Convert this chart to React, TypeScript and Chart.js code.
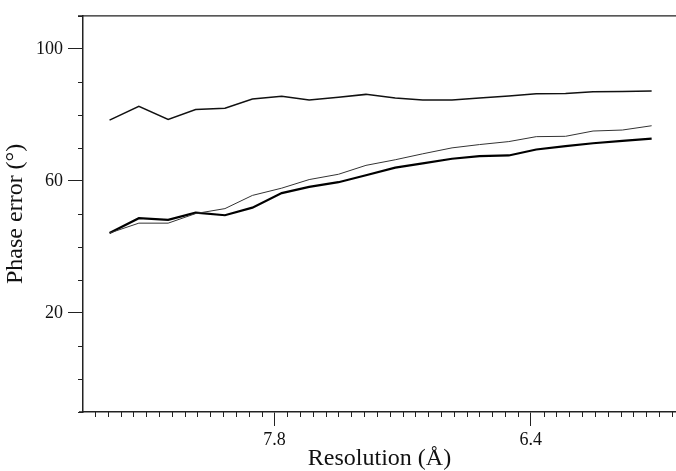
import React, { useEffect, useRef } from "react";
import { Chart, registerables } from "chart.js";

Chart.register(...registerables);

// Resolution shells (Å)
const resolution = [8.7, 8.54, 8.38, 8.23, 8.07, 7.92, 7.76, 7.61, 7.45, 7.3, 7.14, 6.99, 6.83, 6.68, 6.52, 6.37, 6.21, 6.06, 5.9, 5.74];
// Phase error series (degrees)
const phaseErrorTop = [78.4, 82.6, 78.6, 81.6, 82.0, 84.8, 85.6, 84.5, 85.3, 86.2, 85.1, 84.5, 84.5, 85.1, 85.7, 86.4, 86.5, 87.0, 87.1, 87.2];
const phaseErrorThin = [44.2, 47.2, 47.2, 50.1, 51.6, 55.6, 57.8, 60.4, 62.0, 64.7, 66.4, 68.2, 70.0, 71.0, 71.9, 73.4, 73.5, 75.1, 75.4, 76.7];
const phaseErrorThick = [44.2, 48.7, 48.2, 50.4, 49.6, 51.9, 56.3, 58.2, 59.6, 61.7, 64.0, 65.3, 66.7, 67.5, 67.7, 69.5, 70.5, 71.4, 72.1, 72.8];

// Axes
const xMajorTicks = [7.8, 6.4];
const xMinorStep = 0.07;
const xRange = [5.607, 8.845];
const yMajorTicks = [20, 60, 100];
const yMinorStep = 10;
const yRange = [-10, 110];

const FONT = "'Liberation Serif', 'Times New Roman', serif";
const AXIS_COLOR = "#222";

const framePlugin = {
  id: "frameAndMinorTicks",
  afterDraw(chart: any) {
    const { ctx, chartArea } = chart;
    const xs = chart.scales.x;
    const ys = chart.scales.y;
    ctx.save();
    ctx.strokeStyle = AXIS_COLOR;
    ctx.lineWidth = 1.3;
    ctx.beginPath();
    ctx.moveTo(chartArea.left - 5, chartArea.top);
    ctx.lineTo(chartArea.right, chartArea.top);
    ctx.moveTo(chartArea.left - 4, chartArea.bottom);
    ctx.lineTo(chartArea.left, chartArea.bottom);
    ctx.stroke();

    ctx.lineWidth = 1;
    ctx.beginPath();
    for (let v = yRange[0]; v <= yRange[1] + 1e-9; v += yMinorStep) {
      if (yMajorTicks.some((m) => Math.abs(m - v) < 1e-6)) continue;
      const py = Math.round(ys.getPixelForValue(v)) + 0.5;
      ctx.moveTo(chartArea.left - 5, py);
      ctx.lineTo(chartArea.left, py);
    }
    const ref = xMajorTicks[0];
    const kMin = Math.ceil((xRange[0] - ref) / xMinorStep - 1e-9);
    const kMax = Math.floor((xRange[1] - ref) / xMinorStep + 1e-9);
    for (let k = kMin; k <= kMax; k++) {
      const v = ref + k * xMinorStep;
      if (xMajorTicks.some((m) => Math.abs(m - v) < 1e-6)) continue;
      const px = Math.round(xs.getPixelForValue(v)) + 0.5;
      ctx.moveTo(px, chartArea.bottom);
      ctx.lineTo(px, chartArea.bottom + 5);
    }
    ctx.stroke();
    ctx.restore();
  },
};

const toPoints = (ys: number[]) => resolution.map((x, i) => ({ x, y: ys[i] }));

export default function App() {
  const canvasRef = useRef<HTMLCanvasElement | null>(null);

  useEffect(() => {
    if (!canvasRef.current) return;
    const chart = new Chart(canvasRef.current, {
      type: "line",
      data: {
        datasets: [
          {
            data: toPoints(phaseErrorTop),
            borderColor: "#111",
            borderWidth: 1.5,
            pointRadius: 0,
            tension: 0,
          },
          {
            data: toPoints(phaseErrorThin),
            borderColor: "#333",
            borderWidth: 1,
            pointRadius: 0,
            tension: 0,
          },
          {
            data: toPoints(phaseErrorThick),
            borderColor: "#000",
            borderWidth: 2.2,
            pointRadius: 0,
            tension: 0,
          },
        ],
      },
      options: {
        responsive: false,
        animation: false,
        layout: { padding: { top: 15, right: 0, left: 0, bottom: 0 } },
        plugins: { legend: { display: false }, tooltip: { enabled: false } },
        scales: {
          x: {
            type: "linear",
            reverse: true,
            min: xRange[0],
            max: xRange[1],
            afterBuildTicks: (scale: any) => {
              scale.ticks = xMajorTicks.map((v) => ({ value: v }));
            },
            afterFit: (scale: any) => {
              scale.height = 59;
            },
            ticks: {
              font: { family: FONT, size: 18 },
              color: "#111",
              padding: 3,
              maxRotation: 0,
              callback: (v: any) => Number(v).toFixed(1),
            },
            grid: {
              drawOnChartArea: false,
              drawTicks: true,
              tickLength: 14,
              tickColor: AXIS_COLOR,
              tickWidth: 1,
            },
            border: { display: true, color: AXIS_COLOR, width: 1.5 },
            title: {
              display: true,
              text: "Resolution (Å)",
              font: { family: FONT, size: 24 },
              color: "#111",
              padding: { top: 0, bottom: -2 },
            },
          },
          y: {
            type: "linear",
            min: yRange[0],
            max: yRange[1],
            afterBuildTicks: (scale: any) => {
              scale.ticks = yMajorTicks.map((v) => ({ value: v }));
            },
            afterFit: (scale: any) => {
              scale.width = 83;
            },
            ticks: {
              font: { family: FONT, size: 18 },
              color: "#111",
              padding: 5,
              callback: (v: any) => String(v),
            },
            grid: {
              drawOnChartArea: false,
              drawTicks: true,
              tickLength: 15,
              tickColor: AXIS_COLOR,
              tickWidth: 1,
            },
            border: { display: true, color: AXIS_COLOR, width: 1.5 },
            title: {
              display: true,
              text: "Phase error (°)",
              font: { family: FONT, size: 24 },
              color: "#111",
              padding: { top: 1, bottom: 0 },
            },
          },
        },
      },
      plugins: [framePlugin],
    });
    return () => chart.destroy();
  }, []);

  return (
    <div style={{ position: "fixed", left: 0, top: 0, width: 676, height: 471, background: "#fff", overflow: "hidden" }}>
      <canvas ref={canvasRef} width={676} height={471} style={{ display: "block" }} />
    </div>
  );
}
